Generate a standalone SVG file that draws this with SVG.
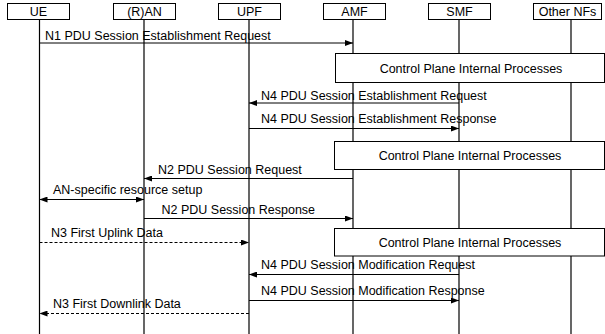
<svg xmlns="http://www.w3.org/2000/svg" width="605" height="334" viewBox="0 0 605 334">
<defs>
<marker id="ah" viewBox="0 0 8 6" refX="8" refY="3" markerWidth="8" markerHeight="6" markerUnits="userSpaceOnUse" orient="auto-start-reverse">
<path d="M0,0 L8,3 L0,6 Z" fill="#000"/>
</marker>
</defs>
<style>
text{font-family:"Liberation Sans",Arial,sans-serif;font-size:12.5px;fill:#000}
.hd{fill:#fff;stroke:#000;stroke-width:1}
.ll{stroke:#000;stroke-width:1.2}
.msg{stroke:#000;stroke-width:1;fill:none}
.dash{stroke-dasharray:3,2}
.cp{fill:#fff;stroke:#000;stroke-width:1}
.c{text-anchor:middle}
</style>
<rect width="605" height="334" fill="#fff"/>
<g id="lifelines">
<line class="ll" x1="39.5" y1="19" x2="39.5" y2="334"/>
<line class="ll" x1="144" y1="19" x2="144" y2="334"/>
<line class="ll" x1="249" y1="19" x2="249" y2="334"/>
<line class="ll" x1="353" y1="19" x2="353" y2="334"/>
<line class="ll" x1="459" y1="19" x2="459" y2="334"/>
<line class="ll" x1="571" y1="19" x2="571" y2="334"/>
</g>
<g id="UE"><rect class="hd" x="7.5" y="3.5" width="62" height="16"/><text class="c" x="38.5" y="15.5">UE</text></g>
<g id="RAN"><rect class="hd" x="113.5" y="3.5" width="62" height="16"/><text class="c" x="144.5" y="15.5">(R)AN</text></g>
<g id="UPF"><rect class="hd" x="218.5" y="3.5" width="62" height="16"/><text class="c" x="249.5" y="15.5">UPF</text></g>
<g id="AMF"><rect class="hd" x="323.5" y="3.5" width="62" height="16"/><text class="c" x="354.5" y="15.5">AMF</text></g>
<g id="SMF"><rect class="hd" x="428.5" y="3.5" width="62" height="16"/><text class="c" x="459.5" y="15.5">SMF</text></g>
<g id="OtherNFs"><rect class="hd" x="533.5" y="3.5" width="68" height="16"/><text class="c" x="567.5" y="15.5">Other NFs</text></g>
<g id="cp1"><rect class="cp" x="335.5" y="53.5" width="269" height="29"/><text class="c" x="471" y="72.5">Control Plane Internal Processes</text></g>
<g id="cp2"><rect class="cp" x="334.5" y="141.5" width="270" height="28"/><text class="c" x="470" y="159.5">Control Plane Internal Processes</text></g>
<g id="cp3"><rect class="cp" x="334.5" y="228.5" width="270" height="27.5"/><text class="c" x="470" y="246.5">Control Plane Internal Processes</text></g>
<g id="connectors">
<line class="msg" x1="39.5" y1="43" x2="353" y2="43" marker-end="url(#ah)"/>
<text x="45" y="40">N1 PDU Session Establishment Request</text>
<line class="msg" x1="459" y1="103" x2="249" y2="103" marker-end="url(#ah)"/>
<text x="261" y="100">N4 PDU Session Establishment Request</text>
<line class="msg" x1="249" y1="128.5" x2="459" y2="128.5" marker-end="url(#ah)"/>
<text x="261" y="123">N4 PDU Session Establishment Response</text>
<line class="msg" x1="353" y1="178.5" x2="144" y2="178.5" marker-end="url(#ah)"/>
<text x="158" y="174">N2 PDU Session Request</text>
<line class="msg" x1="39.5" y1="199.5" x2="144" y2="199.5" marker-start="url(#ah)" marker-end="url(#ah)"/>
<text x="53" y="193.5">AN-specific resource setup</text>
<line class="msg" x1="144" y1="218.5" x2="353" y2="218.5" marker-end="url(#ah)"/>
<text x="161.5" y="213.5">N2 PDU Session Response</text>
<line class="msg dash" x1="39.5" y1="242.5" x2="249" y2="242.5" marker-end="url(#ah)"/>
<text x="51" y="237">N3 First Uplink Data</text>
<line class="msg" x1="459" y1="274.5" x2="249" y2="274.5" marker-end="url(#ah)"/>
<text x="261" y="269">N4 PDU Session Modification Request</text>
<line class="msg" x1="249" y1="300.5" x2="459" y2="300.5" marker-end="url(#ah)"/>
<text x="261" y="294.5">N4 PDU Session Modification Response</text>
<line class="msg dash" x1="249" y1="313.5" x2="39.5" y2="313.5" marker-end="url(#ah)"/>
<text x="53" y="308">N3 First Downlink Data</text>
</g>
</svg>
